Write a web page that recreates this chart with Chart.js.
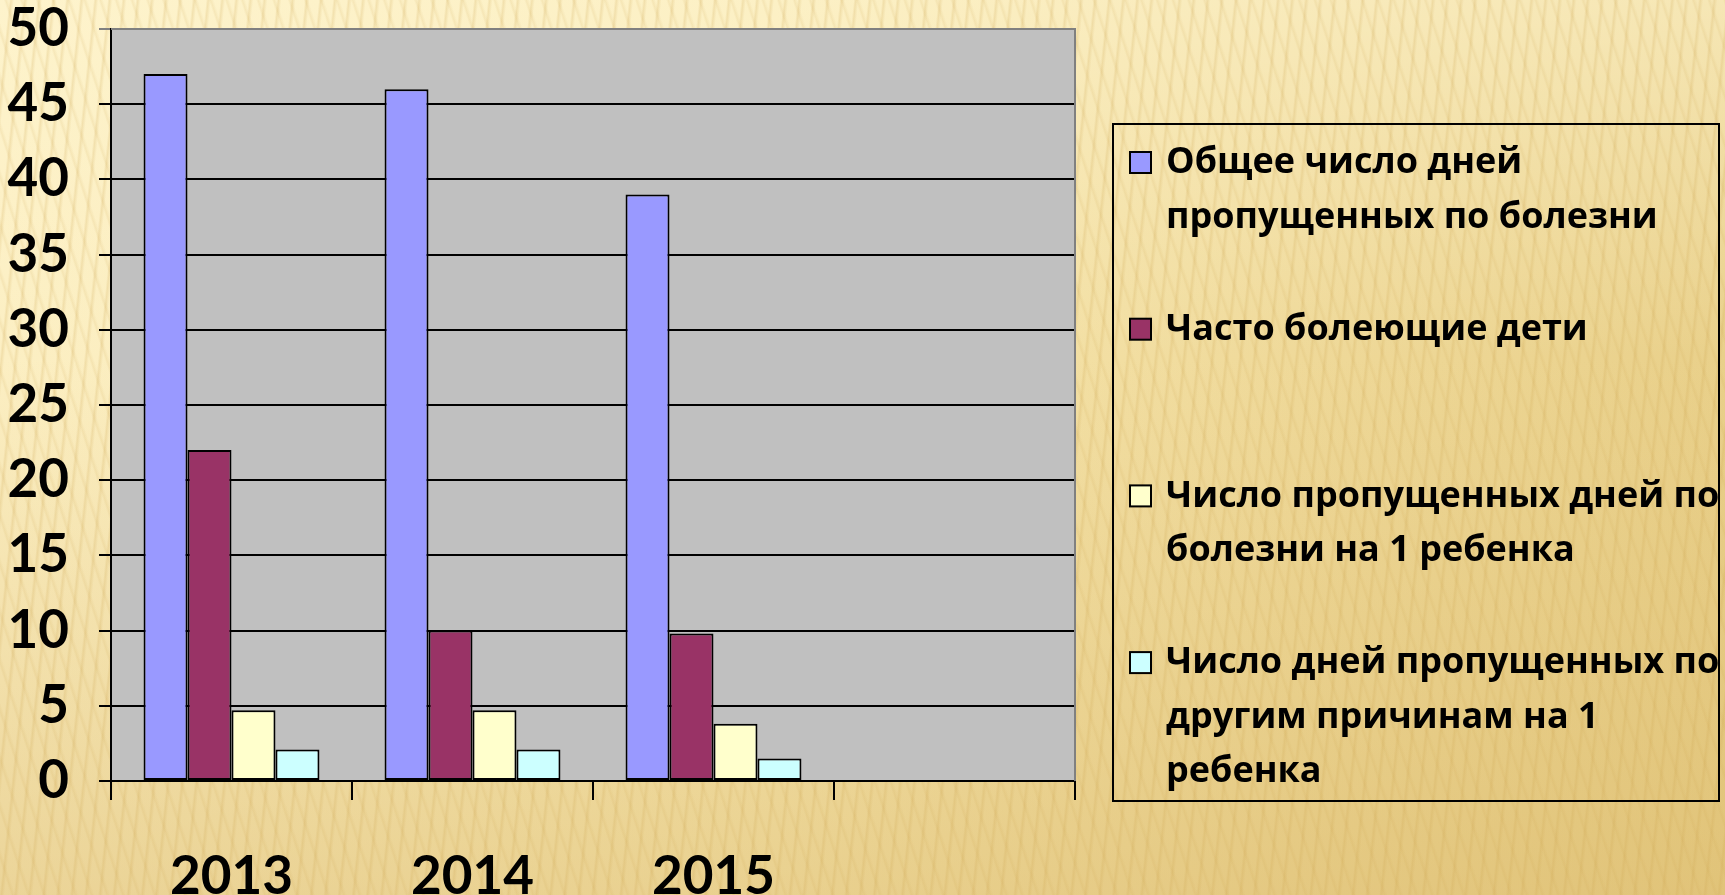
<!DOCTYPE html>
<html>
<head>
<meta charset="utf-8">
<script src="https://cdn.jsdelivr.net/npm/chart.js@4"></script>
<style>
  html, body { margin: 0; padding: 0; }
  body {
    width: 1725px; height: 895px; overflow: hidden;
    background:
      repeating-linear-gradient(96deg, rgba(205,165,80,0) 0px, rgba(205,165,80,0) 9px, rgba(205,165,80,0.22) 11px, rgba(205,165,80,0) 14px),
      repeating-linear-gradient(72deg, rgba(205,165,80,0) 0px, rgba(205,165,80,0) 10px, rgba(205,165,80,0.14) 12px, rgba(205,165,80,0) 15px),
      linear-gradient(180deg, rgba(255,246,210,0.6) 0%, rgba(255,246,210,0) 40%, rgba(215,180,100,0.45) 100%),
      linear-gradient(90deg, #fcefc3 0%, #f8e8b2 45%, #efd999 75%, #e9d08a 100%);
  }
  #wrap { position: relative; width: 1725px; height: 895px; }
</style>
</head>
<body>
<div id="wrap"><canvas id="myChart"></canvas></div>
<script>
const categories = ["2013", "2014", "2015", ""];
const totalDays = [47, 46, 39];
const frequentSick = [22, 10, 9.8];
const sickPerChild = [4.7, 4.7, 3.8];
const otherPerChild = [2.1, 2.1, 1.5];
const legendLines = [
  ["Общее число дней", "пропущенных по болезни"],
  ["Часто болеющие дети"],
  ["Число пропущенных дней по", "болезни на 1 ребенка"],
  ["Число дней пропущенных по", "другим причинам на 1", "ребенка"]
];
const seriesColors = ["#9999ff", "#993366", "#ffffcc", "#ccffff"];
const yMin = 0, yMax = 50, yStep = 5;

// grey plot area with grey top/right border
const plotBg = {
  id: "plotBg",
  beforeDraw(chart) {
    const { ctx, chartArea: a } = chart;
    ctx.save();
    ctx.fillStyle = "#c0c0c0";
    ctx.fillRect(a.left, a.top, a.right - a.left, a.bottom - a.top);
    ctx.restore();
  },
  afterDraw(chart) {
    const { ctx, chartArea: a } = chart;
    ctx.save();
    ctx.strokeStyle = "#808080";
    ctx.lineWidth = 2;
    ctx.beginPath();
    ctx.moveTo(a.left, a.top);
    ctx.lineTo(a.right, a.top);
    ctx.lineTo(a.right, a.bottom);
    ctx.stroke();
    ctx.restore();
  }
};

// boxed legend with wrapped labels, like the Excel one
const boxLegend = {
  id: "boxLegend",
  afterDraw(chart) {
    const ctx = chart.ctx;
    const box = { x: 1113, y: 124, w: 606, h: 677 };
    ctx.save();
    ctx.strokeStyle = "#000";
    ctx.lineWidth = 2;
    ctx.strokeRect(box.x, box.y, box.w, box.h);
    ctx.beginPath();
    ctx.rect(box.x, box.y, box.w - 1, box.h);
    ctx.clip();
    ctx.font = "bold 36px 'Open Sans', 'Noto Sans', sans-serif";
    ctx.textBaseline = "middle";
    chart.data.datasets.forEach((ds, i) => {
      const y0 = 163 + i * 166.7;
      ctx.fillStyle = ds.backgroundColor;
      ctx.fillRect(1130, y0 - 11, 21, 21);
      ctx.strokeStyle = "#000";
      ctx.lineWidth = 2;
      ctx.strokeRect(1130, y0 - 11, 21, 21);
      ctx.fillStyle = "#000";
      legendLines[i].forEach((line, j) => {
        ctx.fillText(line, 1166, y0 + j * 54.5);
      });
    });
    ctx.restore();
  }
};

const seriesData = [totalDays, frequentSick, sickPerChild, otherPerChild];

new Chart(document.getElementById("myChart").getContext("2d"), {
  type: "bar",
  data: {
    labels: categories,
    datasets: seriesData.map((d, i) => ({
      label: legendLines[i].join(" "),
      data: d,
      backgroundColor: seriesColors[i],
      borderColor: "#000",
      borderWidth: 2,
      borderSkipped: false,
      categoryPercentage: 0.73,
      barPercentage: 1.0
    }))
  },
  options: {
    responsive: true,
    maintainAspectRatio: false,
    animation: false,
    layout: { padding: { top: 29, right: 650, left: 0, bottom: 0 } },
    plugins: {
      legend: { display: false },
      tooltip: { enabled: false }
    },
    scales: {
      x: {
        grid: {
          offset: true,
          drawOnChartArea: false,
          drawTicks: true,
          tickLength: 19,
          color: "#000",
          lineWidth: 2
        },
        border: { display: true, color: "#000", width: 2 },
        ticks: {
          color: "#000",
          padding: 45,
          font: { family: "Lato, 'Open Sans', sans-serif", weight: "bold", size: 53 }
        },
        afterFit(scale) { scale.height = 114; }
      },
      y: {
        min: yMin,
        max: yMax,
        ticks: {
          stepSize: yStep,
          color: "#000",
          padding: 30,
          font: { family: "Lato, 'Open Sans', sans-serif", weight: "bold", size: 53 }
        },
        grid: {
          color: (c) => (c.tick && c.tick.value === yMax ? "#808080" : "#000"),
          lineWidth: 2,
          tickLength: 12
        },
        border: { display: true, color: "#000", width: 2 },
        afterFit(scale) {
          scale.width = 111;
          scale.paddingTop = 0;
          scale.paddingBottom = 0;
        }
      }
    }
  },
  plugins: [plotBg, boxLegend]
});
</script>
</body>
</html>
